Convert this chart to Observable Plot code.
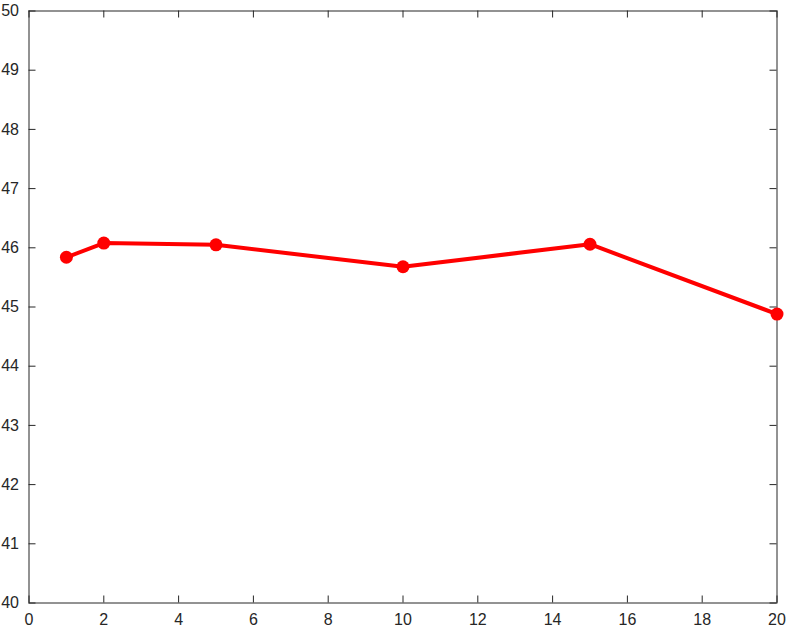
<!DOCTYPE html>
<html>
<head>
<meta charset="utf-8">
<script src="https://cdn.jsdelivr.net/npm/d3@7"></script>
<script src="https://cdn.jsdelivr.net/npm/@observablehq/plot@0.6"></script>
<style>
  html, body { margin: 0; padding: 0; background: #fff; }
</style>
</head>
<body>
<div id="chart"></div>
<script>
const xValues = [1, 2, 5, 10, 15, 20];
const yValues = [45.84, 46.08, 46.05, 45.68, 46.06, 44.88];
const xTicks = [0, 2, 4, 6, 8, 10, 12, 14, 16, 18, 20];
const yTicks = [40, 41, 42, 43, 44, 45, 46, 47, 48, 49, 50];

const data = xValues.map((x, i) => ({x, y: yValues[i]}));

const W = 789, H = 630;
const mL = 28.5, mR = 12.5, mT = 10.5, mB = 27.5;
const innerW = W - mL - mR, innerH = H - mT - mB;
const tickLen = 7;
const axisColor = "#262626";
const fmt = d => String(d);

const chart = Plot.plot({
  width: W,
  height: H,
  marginLeft: mL,
  marginRight: mR,
  marginTop: mT,
  marginBottom: mB,
  style: {fontFamily: "Liberation Sans, Arial, sans-serif", fontSize: "16px", color: axisColor, background: "#fff", overflow: "visible"},
  x: {domain: [0, 20]},
  y: {domain: [40, 50]},
  marks: [
    Plot.axisX(xTicks, {tickSize: 0, tickPadding: 11, tickFormat: fmt, label: null, fontSize: 16, fill: axisColor}),
    Plot.axisY(yTicks, {tickSize: 0, tickPadding: 10, tickFormat: fmt, label: null, fontSize: 16, fill: axisColor}),
    Plot.ruleX(xTicks, {x: d => d, insetTop: innerH - tickLen, stroke: axisColor, strokeWidth: 1}),
    Plot.ruleX(xTicks, {x: d => d, insetBottom: innerH - tickLen, stroke: axisColor, strokeWidth: 1}),
    Plot.ruleY(yTicks, {y: d => d, insetRight: innerW - tickLen, stroke: axisColor, strokeWidth: 1}),
    Plot.ruleY(yTicks, {y: d => d, insetLeft: innerW - tickLen, stroke: axisColor, strokeWidth: 1}),
    Plot.frame({stroke: axisColor, strokeWidth: 1}),
    Plot.line(data, {x: "x", y: "y", stroke: "#ff0000", strokeWidth: 4}),
    Plot.dot(data, {x: "x", y: "y", r: 6.5, fill: "#ff0000", stroke: "none"})
  ]
});
document.getElementById("chart").appendChild(chart);
</script>
</body>
</html>
